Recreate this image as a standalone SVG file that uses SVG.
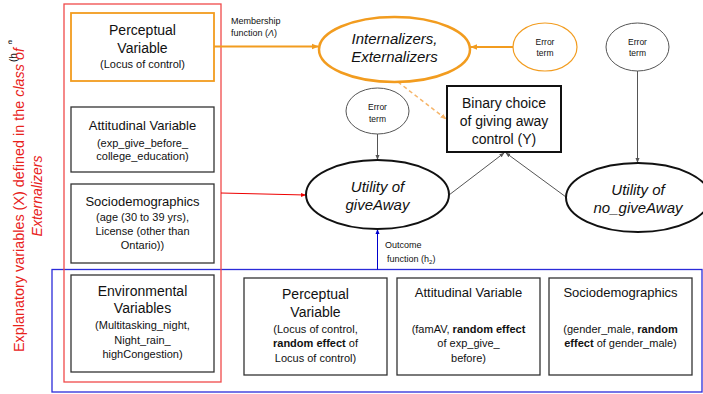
<svg xmlns="http://www.w3.org/2000/svg" width="703" height="394" viewBox="0 0 703 394">
<defs>
<style>
text{font-family:"Liberation Sans",Arial,sans-serif;fill:#111;text-anchor:middle}
.box{fill:#fff;stroke:#333;stroke-width:1.3}
.t14{font-size:14px}
.t13{font-size:13px}
.t11{font-size:11px}
.t9{font-size:9px;text-anchor:start}
.t8{font-size:8.5px}
.it{font-style:italic;font-size:15px}
.b{font-weight:bold}
</style>
<marker id="ao" viewBox="0 0 10 10" refX="9" refY="5" markerWidth="7" markerHeight="7" orient="auto" markerUnits="userSpaceOnUse"><path d="M0,1 L10,5 L0,9 z" fill="#f29c1f"/></marker>
<marker id="ag" viewBox="0 0 10 10" refX="9" refY="5" markerWidth="5" markerHeight="5" orient="auto" markerUnits="userSpaceOnUse"><path d="M0,1 L10,5 L0,9 z" fill="#555"/></marker>
<marker id="ar" viewBox="0 0 10 10" refX="9" refY="5" markerWidth="5" markerHeight="5" orient="auto" markerUnits="userSpaceOnUse"><path d="M0,1 L10,5 L0,9 z" fill="#e00"/></marker>
<marker id="ab" viewBox="0 0 10 10" refX="9" refY="5" markerWidth="5" markerHeight="5" orient="auto" markerUnits="userSpaceOnUse"><path d="M0,1 L10,5 L0,9 z" fill="#00c"/></marker>
<marker id="ad" viewBox="0 0 10 10" refX="9" refY="5" markerWidth="6" markerHeight="6" orient="auto" markerUnits="userSpaceOnUse"><path d="M0,1 L10,5 L0,9 z" fill="#f6b56a"/></marker>
</defs>
<rect width="703" height="394" fill="#fff"/>

<g id="groups">
<rect x="52" y="269.5" width="650" height="122.5" fill="none" stroke="#2b2bd9" stroke-width="1.3"/>
<rect x="64" y="4" width="157" height="378" fill="none" stroke="#f04a4a" stroke-width="1.3"/>
</g>

<g id="sidelabel">
<text x="8" y="44" style="font-size:8px;text-anchor:start">e</text>
<text transform="translate(17,62) rotate(-90)" style="font-size:10px;text-anchor:start">(h</text>
<text transform="translate(24,200) rotate(-90)" style="font-size:14.4px;fill:#e8221b">Explanatory variables (X) defined in the <tspan font-style="italic">class of</tspan></text>
<text transform="translate(41.5,196) rotate(-90)" style="font-size:14px;fill:#e8221b;font-style:italic">Externalizers</text>
</g>

<g id="connectors">
<line x1="214" y1="46.5" x2="318" y2="46.5" stroke="#f29c1f" stroke-width="1.8" marker-end="url(#ao)"/>
<line x1="513" y1="47" x2="471" y2="47" stroke="#f29c1f" stroke-width="1.8" marker-end="url(#ao)"/>
<line x1="398" y1="82" x2="446" y2="119" stroke="#f6b56a" stroke-width="1.5" stroke-dasharray="4,3" marker-end="url(#ad)"/>
<line x1="377.5" y1="134" x2="377.5" y2="159.5" stroke="#555" stroke-width="1" marker-end="url(#ag)"/>
<line x1="637.5" y1="71" x2="637.5" y2="162.5" stroke="#555" stroke-width="1" marker-end="url(#ag)"/>
<line x1="449" y1="195" x2="504" y2="153" stroke="#555" stroke-width="1" marker-end="url(#ag)"/>
<line x1="566" y1="197" x2="506" y2="153" stroke="#555" stroke-width="1" marker-end="url(#ag)"/>
<line x1="221" y1="193" x2="305.5" y2="195" stroke="#e00" stroke-width="1" marker-end="url(#ar)"/>
<line x1="377.5" y1="269.5" x2="377.5" y2="229.5" stroke="#00c" stroke-width="1" marker-end="url(#ab)"/>
<text class="t9" x="231" y="24">Membership</text>
<text class="t9" x="231" y="36">function (<tspan font-style="italic">Λ</tspan>)</text>
<text class="t9" x="385" y="248">Outcome</text>
<text class="t9" x="387" y="262">function (h<tspan font-size="6" dy="2">2</tspan><tspan dy="-2">)</tspan></text>
</g>

<g id="perceptual-top">
<rect x="71" y="13" width="143" height="68" fill="#fff" stroke="#f29c1f" stroke-width="1.8"/>
<text class="t14" x="142.5" y="35">Perceptual</text>
<text class="t14" x="142.5" y="53">Variable</text>
<text class="t11" x="142.5" y="68">(Locus of control)</text>
</g>

<g id="attitudinal-left">
<rect class="box" x="71" y="107" width="143" height="65"/>
<text class="t13" x="142.5" y="130">Attitudinal Variable</text>
<text class="t11" x="142.5" y="147">(exp_give_before_</text>
<text class="t11" x="142.5" y="160">college_education)</text>
</g>

<g id="socio-left">
<rect class="box" x="71" y="184" width="143" height="79"/>
<text class="t13" x="142.5" y="206">Sociodemographics</text>
<text class="t11" x="142.5" y="221">(age (30 to 39 yrs),</text>
<text class="t11" x="142.5" y="235">License (other than</text>
<text class="t11" x="142.5" y="249">Ontario))</text>
</g>

<g id="environmental">
<rect class="box" x="71" y="275" width="143" height="97"/>
<text class="t14" x="142.5" y="296">Environmental</text>
<text class="t14" x="142.5" y="313">Variables</text>
<text class="t11" x="142.5" y="329">(Multitasking_night,</text>
<text class="t11" x="142.5" y="344">Night_rain_</text>
<text class="t11" x="142.5" y="358">highCongestion)</text>
</g>

<g id="classes">
<ellipse cx="394.5" cy="49.5" rx="75.5" ry="32.5" fill="#fff" stroke="#f29c1f" stroke-width="2.5"/>
<text class="it" x="394.5" y="44">Internalizers,</text>
<text class="it" x="394.5" y="62">Externalizers</text>
</g>

<g id="error-orange">
<ellipse cx="545" cy="47" rx="32" ry="24" fill="#fff" stroke="#f29c1f" stroke-width="1.2"/>
<text class="t8" x="545" y="45">Error</text>
<text class="t8" x="545" y="56">term</text>
</g>

<g id="error-right">
<ellipse cx="637.5" cy="47" rx="31.5" ry="24" fill="#fff" stroke="#555" stroke-width="1"/>
<text class="t8" x="637.5" y="45">Error</text>
<text class="t8" x="637.5" y="56">term</text>
</g>

<g id="binary">
<rect x="447" y="86" width="114" height="66" fill="#fff" stroke="#111" stroke-width="2"/>
<text class="t14" x="504" y="108">Binary choice</text>
<text class="t14" x="504" y="126">of giving away</text>
<text class="t14" x="504" y="144">control (Y)</text>
</g>

<g id="error-left">
<ellipse cx="377.5" cy="111" rx="31.5" ry="23" fill="#fff" stroke="#555" stroke-width="1"/>
<text class="t8" x="377.5" y="110">Error</text>
<text class="t8" x="377.5" y="122">term</text>
</g>

<g id="utility-give">
<ellipse cx="377.5" cy="194.5" rx="71.5" ry="34.5" fill="#fff" stroke="#111" stroke-width="2"/>
<text class="it" x="377.5" y="192">Utility of</text>
<text class="it" x="377.5" y="210">giveAway</text>
</g>

<g id="utility-nogive">
<ellipse cx="638" cy="197.5" rx="72" ry="34.5" fill="#fff" stroke="#111" stroke-width="2"/>
<text class="it" x="638" y="195">Utility of</text>
<text class="it" x="638" y="213">no_giveAway</text>
</g>

<g id="perceptual-bottom">
<rect class="box" x="244" y="278" width="143" height="97"/>
<text class="t14" x="315.5" y="299">Perceptual</text>
<text class="t14" x="315.5" y="317">Variable</text>
<text class="t11" x="315.5" y="333">(Locus of control,</text>
<text class="t11" x="315.5" y="347"><tspan class="b">random effect</tspan> of</text>
<text class="t11" x="315.5" y="362">Locus of control)</text>
</g>

<g id="attitudinal-bottom">
<rect class="box" x="397" y="278" width="143" height="97"/>
<text class="t13" x="468.5" y="297">Attitudinal Variable</text>
<text class="t11" x="468.5" y="333">(famAV, <tspan class="b">random effect</tspan></text>
<text class="t11" x="468.5" y="347">of exp_give_</text>
<text class="t11" x="468.5" y="362">before)</text>
</g>

<g id="socio-bottom">
<rect class="box" x="549" y="278" width="143" height="97"/>
<text class="t13" x="620.5" y="297">Sociodemographics</text>
<text class="t11" x="620.5" y="333">(gender_male, <tspan class="b">random</tspan></text>
<text class="t11" x="620.5" y="347"><tspan class="b">effect</tspan> of gender_male)</text>
</g>
</svg>
